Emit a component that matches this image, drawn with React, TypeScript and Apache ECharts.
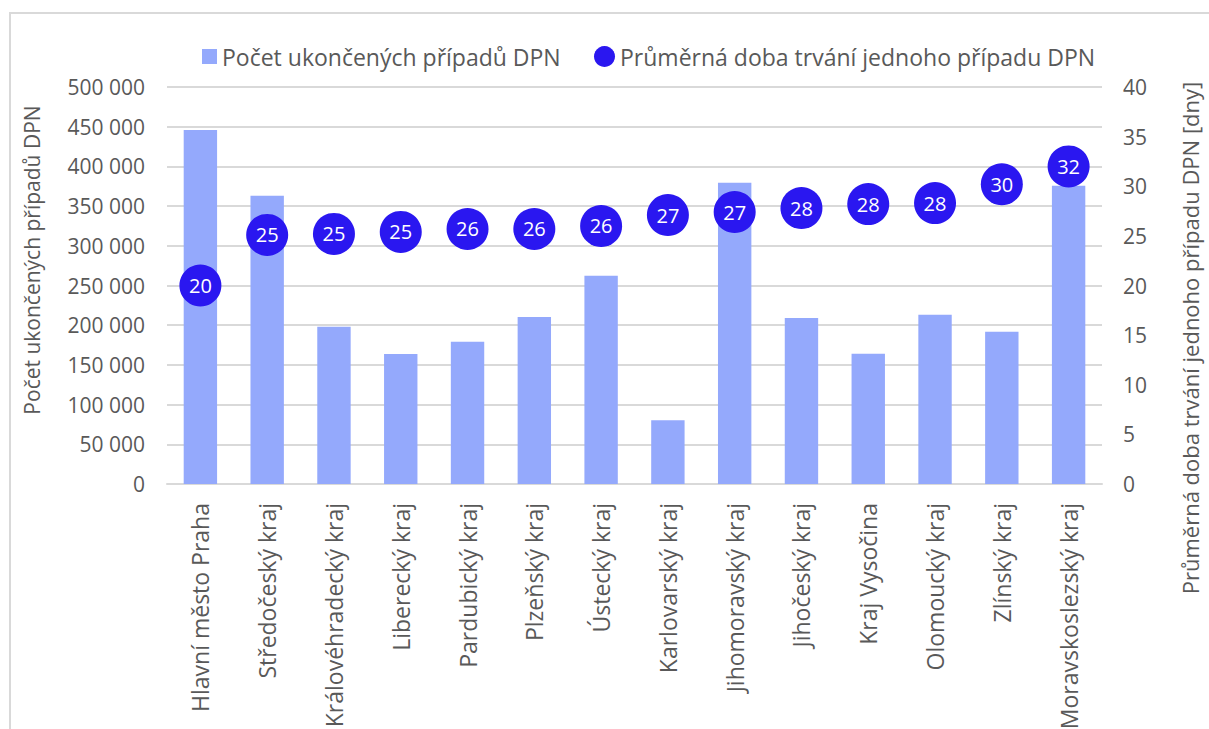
import React, { useEffect, useRef } from "react";
import * as echarts from "echarts";

const regions = [
  "Hlavní město Praha",
  "Středočeský kraj",
  "Královéhradecký kraj",
  "Liberecký kraj",
  "Pardubický kraj",
  "Plzeňský kraj",
  "Ústecký kraj",
  "Karlovarský kraj",
  "Jihomoravský kraj",
  "Jihočeský kraj",
  "Kraj Vysočina",
  "Olomoucký kraj",
  "Zlínský kraj",
  "Moravskoslezský kraj",
];

// Number of closed sick-leave cases per region
const closedCases = [
  446000, 363000, 198000, 163600, 179200, 210300, 262400, 80400, 379400, 209100,
  164000, 213200, 191800, 375600,
];

// Average duration of one case, in days
const avgDuration = [
  20.0, 25.1, 25.2, 25.4, 25.7, 25.7, 26.0, 27.1, 27.4, 27.8, 28.2, 28.3, 30.2, 32.0,
];

const barName = "Počet ukončených případů DPN";
const dotName = "Průměrná doba trvání jednoho případu DPN";
const leftTitle = "Počet ukončených případů DPN";
const rightTitle = "Průměrná doba trvání jednoho případu DPN [dny]";

const FONT = "'Open Sans', 'Noto Sans', sans-serif";
const TEXT = "#595959";
const GRID = "#d9d9d9";
const BAR = "#94a9fc";
const DOT = "#2a17f0";

const thousands = (v: number) =>
  String(v).replace(/\B(?=(\d{3})+(?!\d))/g, " ");

export default function App() {
  const ref = useRef<HTMLDivElement>(null);

  useEffect(() => {
    if (!ref.current) return;
    const chart = echarts.init(ref.current, null, { renderer: "svg" });
    chart.setOption({
      animation: false,
      backgroundColor: "#ffffff",
      textStyle: { fontFamily: FONT },
      legend: [
        {
          data: [{ name: barName, icon: "rect" }],
          left: 197,
          top: 40,
          itemWidth: 15,
          itemHeight: 15,
          textStyle: { fontSize: 23, color: TEXT, fontFamily: FONT },
        },
        {
          data: [{ name: dotName, icon: "circle" }],
          left: 589,
          top: 40,
          itemWidth: 21,
          itemHeight: 21,
          textStyle: { fontSize: 23, color: TEXT, fontFamily: FONT },
        },
      ],
      grid: {
        left: 167,
        right: 107,
        top: 87,
        bottom: 245,
        containLabel: false,
        outerBoundsMode: "none",
      },
      xAxis: {
        type: "category",
        data: regions,
        axisTick: { show: false },
        axisLine: { lineStyle: { color: GRID, width: 2 } },
        axisLabel: {
          rotate: 90,
          margin: 19,
          fontSize: 23,
          color: TEXT,
          fontFamily: FONT,
          interval: 0,
        },
      },
      yAxis: [
        {
          type: "value",
          min: 0,
          max: 500000,
          interval: 50000,
          axisLine: { show: false },
          axisTick: { show: false },
          splitLine: { lineStyle: { color: GRID, width: 2 } },
          axisLabel: {
            margin: 22,
            fontSize: 21,
            color: TEXT,
            fontFamily: FONT,
            formatter: (v: number) => thousands(v),
          },
        },
        {
          type: "value",
          min: 0,
          max: 40,
          interval: 5,
          axisLine: { show: false },
          axisTick: { show: false },
          splitLine: { show: false },
          axisLabel: {
            margin: 21,
            fontSize: 21,
            color: TEXT,
            fontFamily: FONT,
          },
        },
      ],
      series: [
        {
          name: barName,
          type: "bar",
          data: closedCases,
          barWidth: "50%",
          itemStyle: { color: BAR },
          yAxisIndex: 0,
        },
        {
          name: dotName,
          type: "scatter",
          data: avgDuration,
          yAxisIndex: 1,
          symbol: "circle",
          symbolSize: 42,
          itemStyle: { color: DOT, opacity: 1 },
          label: {
            show: true,
            position: "inside",
            color: "#ffffff",
            fontSize: 20,
            fontFamily: FONT,
            formatter: (p: any) => Number(p.value).toFixed(0),
          },
          z: 5,
        },
      ],
      graphic: [
        {
          type: "rect",
          shape: { x: 10, y: 13, width: 1300, height: 900 },
          style: { fill: "none", stroke: GRID, lineWidth: 2 },
          silent: true,
          z: -1,
        },
        {
          type: "text",
          x: 32,
          y: 260,
          rotation: Math.PI / 2,
          style: {
            text: leftTitle,
            fontSize: 21,
            fontFamily: FONT,
            fill: TEXT,
            align: "center",
            verticalAlign: "middle",
          },
        },
        {
          type: "text",
          x: 1190,
          y: 338,
          rotation: Math.PI / 2,
          style: {
            text: rightTitle,
            fontSize: 22,
            fontFamily: FONT,
            fill: TEXT,
            align: "center",
            verticalAlign: "middle",
          },
        },
      ],
    });
    return () => chart.dispose();
  }, []);

  return (
    <div
      ref={ref}
      style={{ position: "fixed", left: 0, top: 0, width: 1209, height: 729 }}
    />
  );
}
